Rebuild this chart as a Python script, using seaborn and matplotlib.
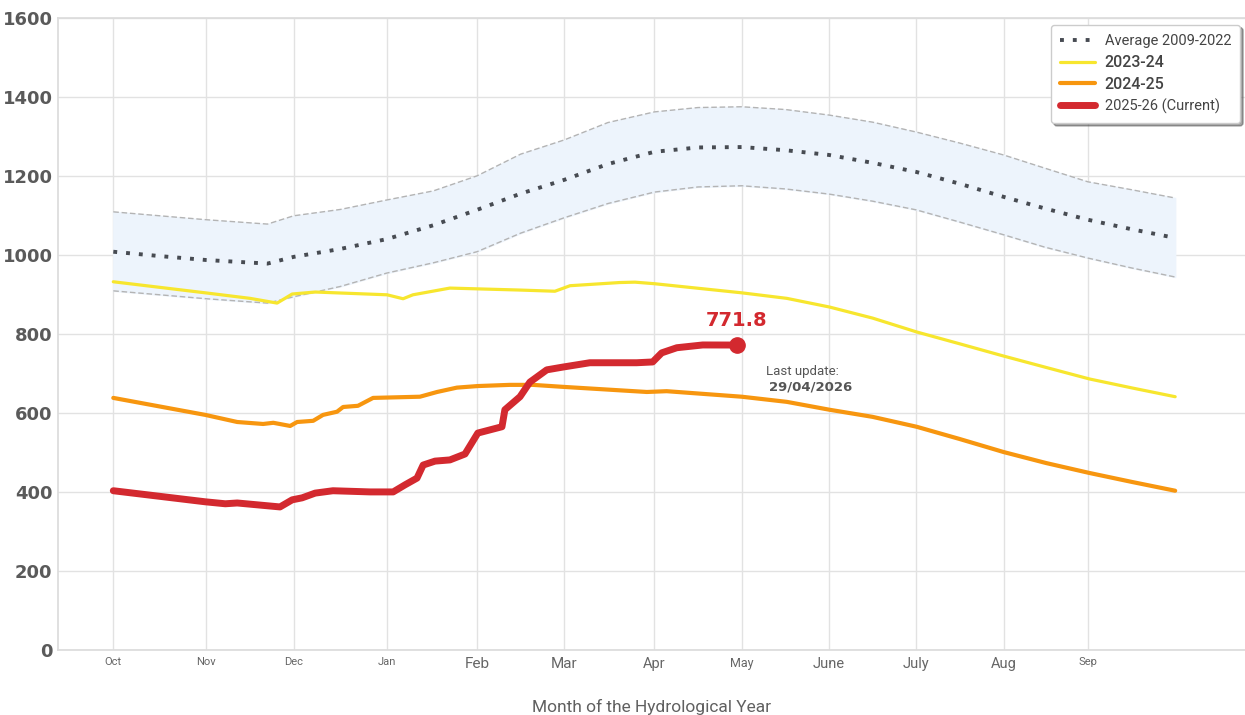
import seaborn as sns
import matplotlib.pyplot as plt
import numpy as np

# --- Data ---
# x = days into the hydrological year (Oct 1 = 0), y = reservoir volume
month_labels = ['Oct', 'Nov', 'Dec', 'Jan', 'Feb', 'Mar', 'Apr', 'May',
                'June', 'July', 'Aug', 'Sep']
month_ticks = [0, 32, 62, 94, 125, 155, 186, 216, 246, 276, 306, 335]

avg_days = [0, 16, 32, 53, 62, 78, 94, 110, 125, 140, 155, 170, 186, 201,
            216, 231, 246, 261, 276, 291, 306, 320, 335, 350, 365]
avg_vals = [1008, 997, 987, 978, 995, 1015, 1040, 1075, 1114, 1155, 1190, 1230,
            1261, 1272, 1273, 1265, 1253, 1233, 1210, 1180, 1147, 1118, 1089,
            1065, 1043]
band_upper = [1109, 1099, 1089, 1078, 1099, 1115, 1139, 1162, 1200, 1255, 1291,
              1335, 1362, 1373, 1375, 1368, 1354, 1336, 1311, 1283, 1253, 1220,
              1185, 1165, 1144]
band_lower = [909, 899, 889, 878, 894, 920, 954, 980, 1008, 1055, 1094, 1130,
              1159, 1172, 1175, 1167, 1154, 1136, 1114, 1083, 1051, 1020, 992,
              967, 944]

y2324_days = [0, 15.8, 31.6, 47, 56.3, 61.5, 69.4, 94.1, 99.6, 103, 115.7,
              125.3, 139.8, 151.8, 157, 174, 179.3, 186.1, 216, 231.5, 246.2,
              261, 276.1, 290.9, 306, 320.7, 335.5, 350.3, 365]
y2324_vals = [932, 918, 904, 890, 878, 901, 906, 899, 889, 899, 916, 914, 911,
              908, 922, 930, 931, 927, 904, 890, 868, 840, 805, 775, 744, 715,
              686, 663, 641]

y2425_days = [0, 31.6, 42.6, 51.5, 55, 60.8, 63.2, 68.7, 72.1, 76.9, 79, 84.1,
              89.3, 105.4, 111.3, 118.1, 125.3, 136.3, 144.2, 154.5, 183.4,
              190.2, 216, 231.5, 246.2, 261, 276.1, 290.9, 306, 320.7, 335.5,
              350.3, 365]
y2425_vals = [638, 595, 577, 572, 575, 567, 577, 580, 595, 603, 615, 618, 638,
              641, 653, 664, 668, 671, 671, 666, 653, 655, 641, 628, 608, 590,
              565, 534, 501, 473, 448, 425, 403]

y2526_days = [0, 31.6, 38.5, 42.6, 57.3, 61.5, 64.9, 69.4, 75.5, 88.3, 96.2,
              100.3, 104.4, 106.5, 110.6, 115.7, 120.9, 125.3, 133.6, 134.6,
              139.8, 143.2, 149, 154.5, 163.8, 179.9, 185.4, 188.5, 193.7,
              202.6, 214.3]
y2526_vals = [403, 375, 370, 372, 362, 380, 385, 397, 403, 400, 400, 418, 435,
              468, 478, 481, 496, 549, 565, 608, 641, 678, 709, 716, 727, 727,
              729, 752, 765, 772, 771.8]

last_value = 771.8
last_update = "29/04/2026"

# --- Style ---
sns.set_theme(style="whitegrid")
plt.rcParams['font.family'] = ['Roboto', 'DejaVu Sans']

fig, ax = plt.subplots(figsize=(12.45, 7.15), dpi=100)
fig.subplots_adjust(left=0.0466, right=1.0, bottom=0.091, top=0.975)

# min-max band of the reference period
ax.fill_between(avg_days, band_lower, band_upper, color='#edf4fc', zorder=1)
sns.lineplot(x=avg_days, y=band_upper, ax=ax, color='#b4b4b4', lw=1,
             linestyle=(0, (4, 2)), zorder=2)
sns.lineplot(x=avg_days, y=band_lower, ax=ax, color='#b4b4b4', lw=1,
             linestyle=(0, (4, 2)), zorder=2)

sns.lineplot(x=avg_days, y=avg_vals, ax=ax, color='#474b52', lw=2.8,
             linestyle=(0, (1, 2.3)), label='Average 2009-2022', zorder=4)
sns.lineplot(x=y2324_days, y=y2324_vals, ax=ax, color='#f7e62e', lw=2.3,
             label='2023-24', zorder=3)
sns.lineplot(x=y2425_days, y=y2425_vals, ax=ax, color='#f7960f', lw=3,
             label='2024-25', zorder=3)
sns.lineplot(x=y2526_days, y=y2526_vals, ax=ax, color='#d3292f', lw=5,
             solid_capstyle='round', label='2025-26 (Current)', zorder=5)
ax.plot(y2526_days[-1], last_value, 'o', color='#d3292f', ms=11, zorder=6)

ax.annotate(f"{last_value}", (y2526_days[-1], last_value), xytext=(0, 18),
            textcoords='offset points', ha='center', va='center',
            color='#d3292f', fontsize=14, fontweight='bold',
            family='DejaVu Sans')
ax.annotate("Last update:", (y2526_days[-1], last_value), xytext=(21, -19),
            textcoords='offset points', ha='left', va='center',
            color='#555555', fontsize=9.5)
ax.annotate(last_update, (y2526_days[-1], last_value), xytext=(23, -30),
            textcoords='offset points', ha='left', va='center',
            color='#555555', fontsize=9.5, fontweight='bold',
            family='DejaVu Sans')

# --- Axes ---
ax.set_xlim(-19, 389)
ax.set_ylim(0, 1600)
ax.set_yticks(range(0, 1601, 200))
ax.set_xticks(month_ticks)
ax.set_xticklabels(month_labels)
tick_sizes = [8, 8, 8, 8, 11, 11, 10.5, 9, 10.5, 10.5, 10.5, 8]
for lab, s in zip(ax.get_xticklabels(), tick_sizes):
    lab.set_fontsize(s)
    lab.set_color('#666666')
for lab in ax.get_yticklabels():
    lab.set_fontsize(13)
    lab.set_fontweight('bold')
    lab.set_color('#5a5a5a')
    lab.set_family('DejaVu Sans')
ax.tick_params(axis='x', pad=5, length=0)
ax.tick_params(axis='y', pad=4, length=0)
ax.grid(color='#e2e2e2', lw=1)
for side in ['left', 'bottom', 'top']:
    ax.spines[side].set_color('#dcdcdc')
ax.spines['right'].set_visible(False)

ax.set_xlabel("Month of the Hydrological Year", fontsize=12.5, color='#606060',
              labelpad=20)
ax.set_ylabel("")

leg = ax.legend(loc='upper right', bbox_to_anchor=(0.996, 0.989),
                borderaxespad=0, frameon=True, shadow=True, fancybox=True,
                handlelength=2.3, handletextpad=0.6, labelspacing=0.45,
                borderpad=0.6, edgecolor='#cccccc', framealpha=1)
leg_sizes = [10.5, 11.5, 11.5, 10.5]
for t, s in zip(leg.get_texts(), leg_sizes):
    t.set_fontsize(s)
    t.set_color('#444444')
leg.get_texts()[1].set_fontweight('medium')
leg.get_texts()[2].set_fontweight('medium')

plt.savefig("out.png", dpi=100)
plt.close()
